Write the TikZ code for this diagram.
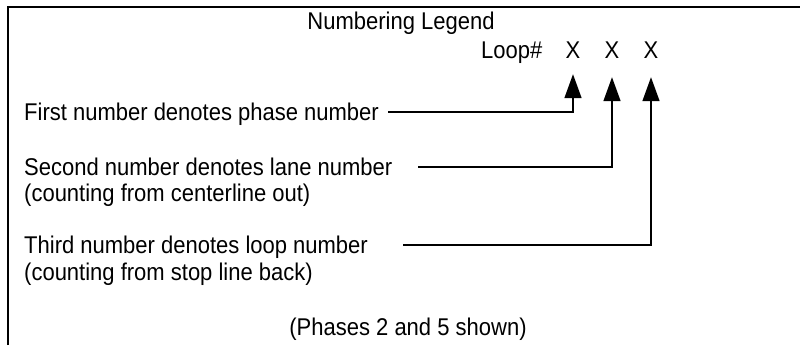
\documentclass[tikz,border=0pt]{standalone}
\usepackage{fontspec}
\setmainfont{Liberation Sans}
\usetikzlibrary{arrows.meta}
\newcommand{\tallbox}[1]{\scalebox{1}[1.1]{#1}}
\begin{document}
\begin{tikzpicture}[x=1bp,y=-1bp,
  txt/.style={inner sep=0pt,font=\fontsize{22bp}{26bp}\selectfont},
  conn/.style={line width=1.5bp,-{Triangle[length=24bp,width=17bp]}},
  frame/.style={line width=2bp}]
\useasboundingbox (0,0) rectangle (800,345);
\draw[frame] (8,345) -- (8,7) -- (800,7);
\node[txt,anchor=base] (title) at (401,29) {\tallbox{Numbering Legend}};
\node[txt,anchor=base west] (loop) at (481,58) {\tallbox{Loop\#}};
\node[txt,anchor=base] (x1) at (573,58) {\tallbox{X}};
\node[txt,anchor=base] (x2) at (612,58) {\tallbox{X}};
\node[txt,anchor=base] (x3) at (651,58) {\tallbox{X}};
\node[txt,anchor=base west] (t1) at (24,120) {\tallbox{First number denotes phase number}};
\node[txt,anchor=base west] (t2) at (24,175) {\tallbox{Second number denotes lane number}};
\node[txt,anchor=base west] (t2b) at (24,201) {\tallbox{(counting from centerline out)}};
\node[txt,anchor=base west] (t3) at (24,253) {\tallbox{Third number denotes loop number}};
\node[txt,anchor=base west] (t3b) at (24,280) {\tallbox{(counting from stop line back)}};
\node[txt,anchor=base] (note) at (408,335) {\tallbox{(Phases 2 and 5 shown)}};
\coordinate (c1) at (388,112);
\coordinate (c2) at (418,167);
\coordinate (c3) at (403,245);
\draw[conn,shorten >=16bp] (c1) -| (x1.south);
\draw[conn,shorten >=19bp] (c2) -| (x2.south);
\draw[conn,shorten >=19bp] (c3) -| (x3.south);
\end{tikzpicture}
\end{document}
